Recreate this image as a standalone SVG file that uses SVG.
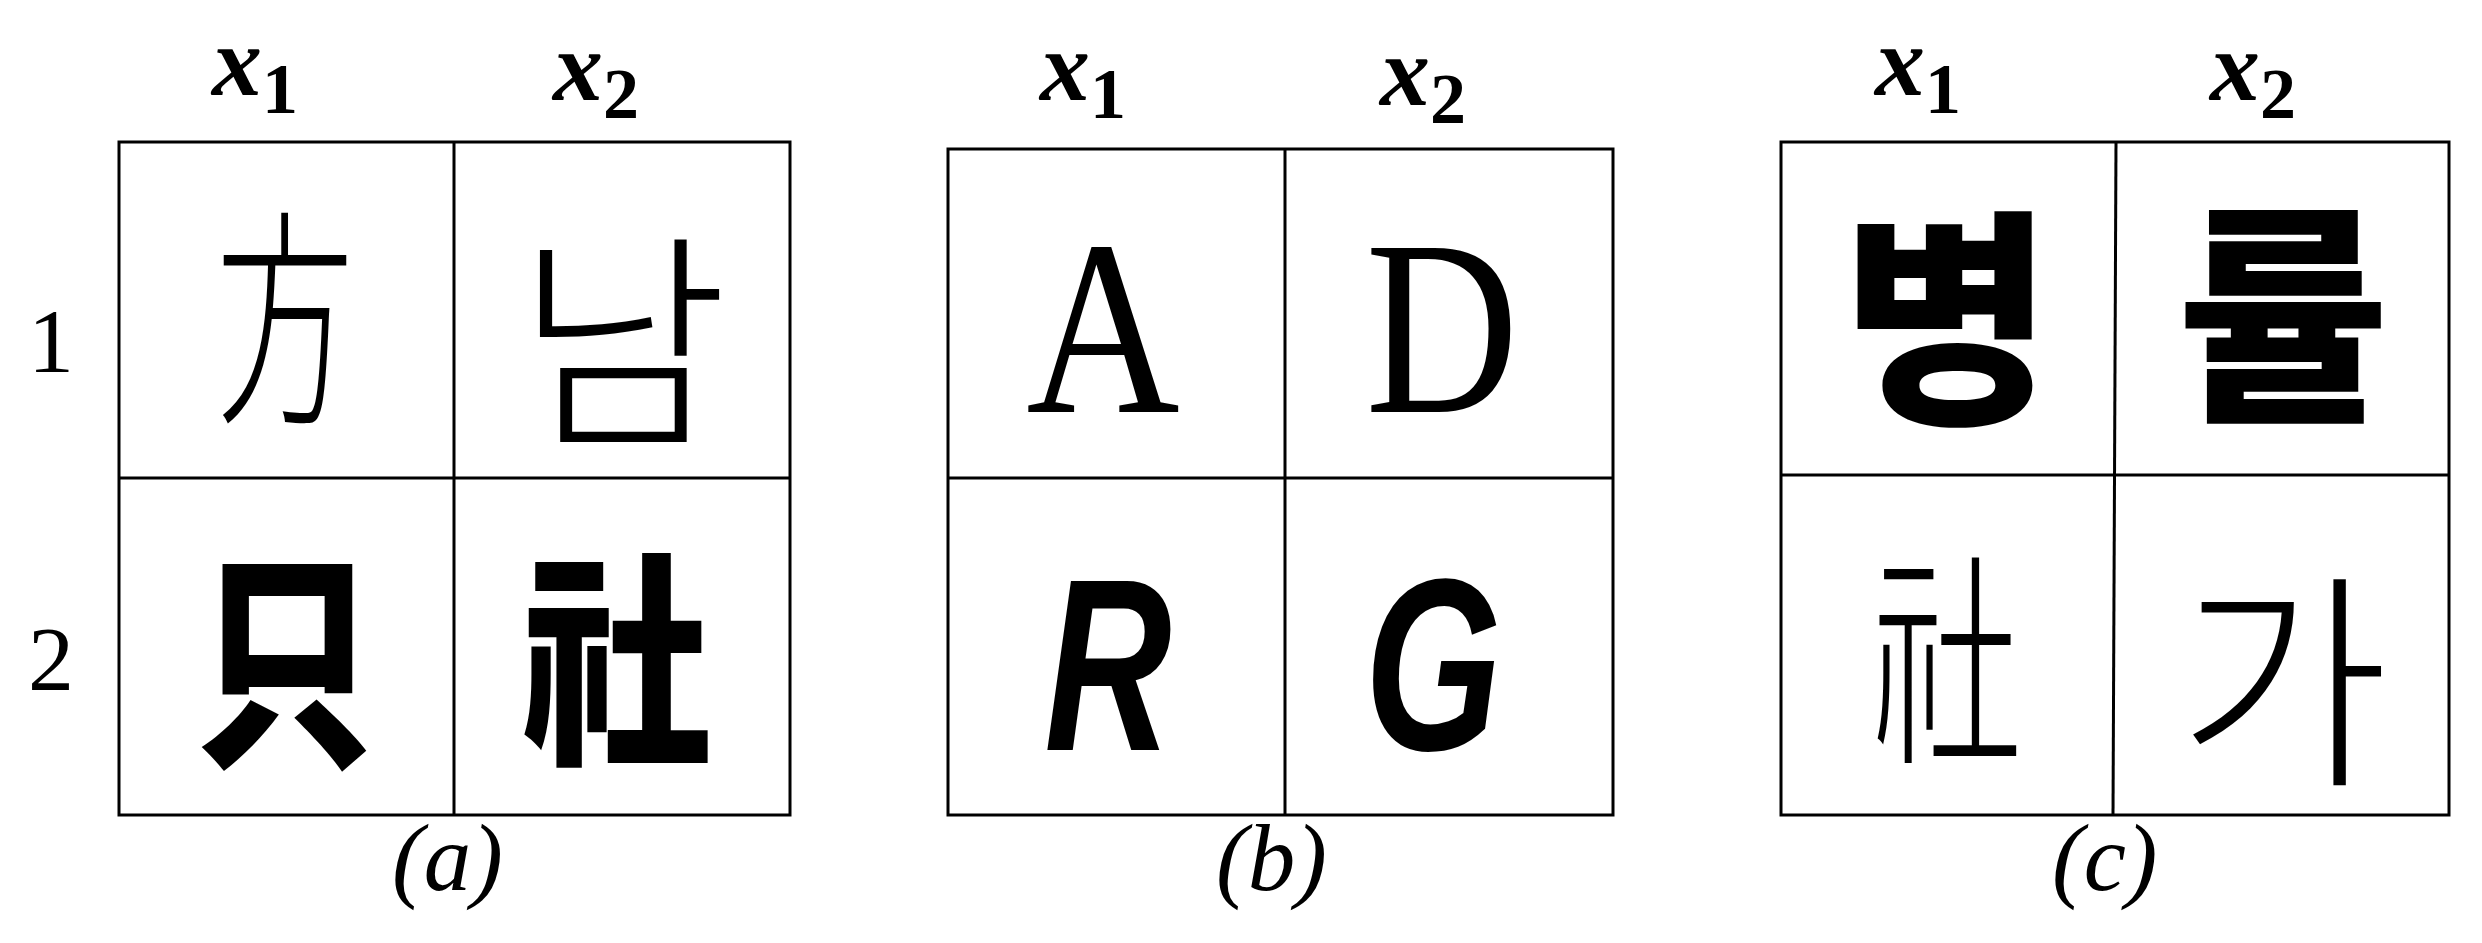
<svg xmlns="http://www.w3.org/2000/svg" width="2482" height="943" viewBox="0 0 2482 943">
<style>
.g{fill:#fff;stroke:#000;stroke-width:3}
.l{stroke:#000;stroke-width:3}
.h{font-family:"Liberation Serif",serif;font-style:italic;font-weight:bold;font-size:100px}
.s{font-family:"Liberation Serif",serif;font-style:normal;font-weight:bold;font-size:72px}
.n{font-family:"Liberation Serif",serif;font-size:92px}
.m{font-family:"Liberation Serif",serif;font-style:italic;font-size:95px}
.c{font-family:"Noto Sans CJK KR",sans-serif;font-size:230px;text-anchor:middle}
.lat{font-family:"Liberation Serif",serif;font-size:250px;text-anchor:middle}
.bi{font-family:"Liberation Sans",sans-serif;font-style:italic;font-weight:bold;font-size:245px;text-anchor:middle}
</style>
<rect width="2482" height="943" fill="#fff"/>
<g id="panel-a">
<rect class="g" x="119" y="142" width="671" height="673"/>
<line class="l" x1="454" y1="142" x2="454" y2="815"/><line class="l" x1="119" y1="478" x2="790" y2="478"/>
<text class="h" x="212" y="95">x<tspan class="s" dy="18">1</tspan></text>
<text class="h" x="553" y="100">x<tspan class="s" dy="18">2</tspan></text>
<text class="n" x="28" y="372">1</text><text class="n" x="28" y="690">2</text>
<text class="c" x="285" y="405" font-weight="300" transform="translate(285 0) scale(0.6 1) translate(-285 0)">方</text>
<text class="c" x="622" y="428" font-weight="300">남</text>
<text class="c" x="285" y="748" font-weight="900" transform="translate(285 0) scale(0.78 1) translate(-285 0)">只</text>
<text class="c" x="617" y="745" font-weight="900" transform="translate(617 0) scale(0.83 1) translate(-617 0)">社</text>
<text class="m" x="392" y="890">(<tspan>a</tspan>)</text>
</g>
<g id="panel-b">
<rect class="g" x="948" y="149" width="665" height="666"/>
<line class="l" x1="1285" y1="149" x2="1285" y2="815"/><line class="l" x1="948" y1="478" x2="1613" y2="478"/>
<text class="h" x="1040" y="100">x<tspan class="s" dy="18">1</tspan></text>
<text class="h" x="1380" y="105">x<tspan class="s" dy="18">2</tspan></text>
<text class="lat" x="1103" y="412" transform="translate(1103 0) scale(0.85 1) translate(-1103 0)">A</text>
<text class="lat" x="1442" y="412" transform="translate(1442 0) scale(0.85 1) translate(-1442 0)">D</text>
<text class="bi" x="1108" y="750" transform="translate(1108 0) scale(0.72 1) translate(-1108 0)">R</text>
<text class="bi" x="1433" y="750" transform="translate(1433 0) scale(0.72 1) translate(-1433 0)">G</text>
<text class="m" x="1216" y="890">(<tspan>b</tspan>)</text>
</g>
<g id="panel-c">
<rect class="g" x="1781" y="142" width="668" height="673"/>
<line class="l" x1="2116" y1="142" x2="2113" y2="815"/><line class="l" x1="1781" y1="475" x2="2449" y2="475"/>
<text class="h" x="1875" y="95">x<tspan class="s" dy="18">1</tspan></text>
<text class="h" x="2210" y="100">x<tspan class="s" dy="18">2</tspan></text>
<text class="c" x="1947" y="405" font-weight="900">병</text>
<text class="c" x="2283" y="402" font-weight="900">률</text>
<text class="c" x="1947" y="745" font-weight="300" transform="translate(1947 0) scale(0.66 1) translate(-1947 0)">社</text>
<text class="c" x="2283" y="768" font-weight="300">가</text>
<text class="m" x="2052" y="890">(<tspan>c</tspan>)</text>
</g>
</svg>
